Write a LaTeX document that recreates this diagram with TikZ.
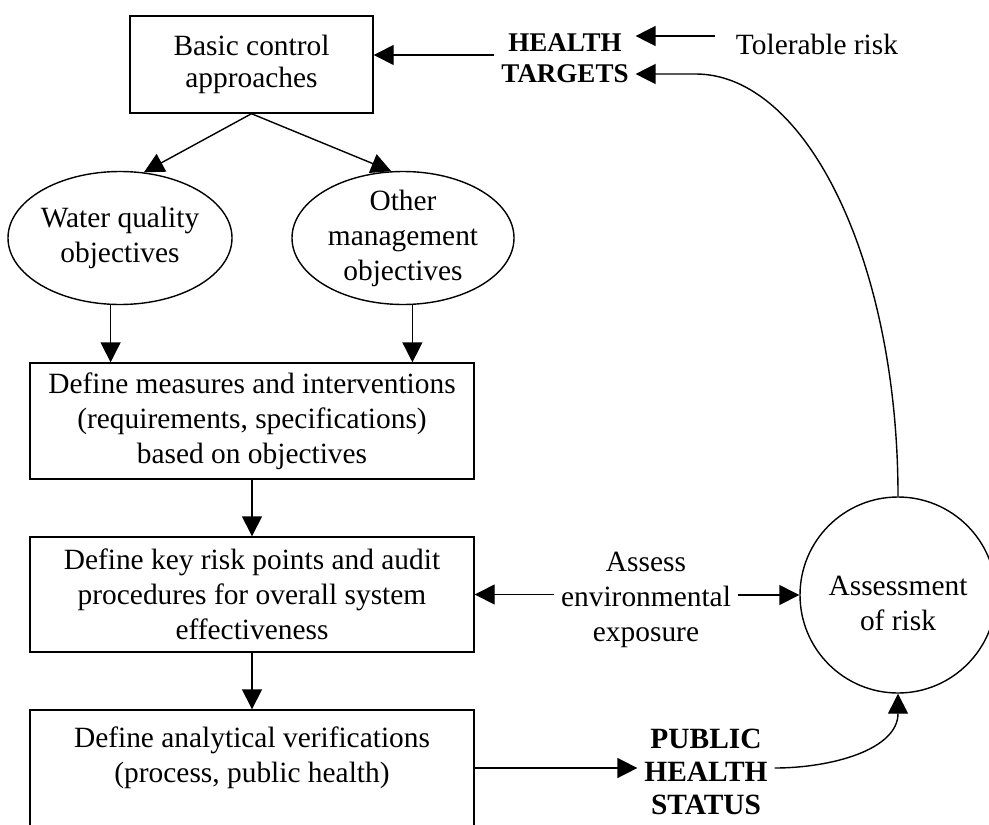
\documentclass[tikz,border=0pt]{standalone}
\usepackage{fontspec}
\setmainfont{Liberation Serif}
\usetikzlibrary{arrows.meta,shapes.geometric}

\begin{document}
\begin{tikzpicture}[x=0.5pt,y=-0.5pt,
  every node/.style={font=\fontsize{14.7}{17.5}\selectfont, align=center},
  box/.style={draw, line width=0.7pt, inner sep=0pt},
  oval/.style={draw, ellipse, line width=0.7pt, inner sep=0pt, minimum width=112pt, minimum height=66.5pt},
  bold/.style={font=\fontsize{13.5}{15.5}\selectfont\bfseries},
  arr/.style={-{Triangle[length=10pt,width=10pt]}, line width=0.7pt}]
  \useasboundingbox (0,0) rectangle (989,824);
  \clip (0,0) rectangle (989,824);

  % left column
  \node[box, minimum width=121.5pt, minimum height=48.5pt, font=\fontsize{14.7}{16}\selectfont] (basic) at (251.5,64.5) {Basic control\\approaches};
  \node[oval] (wq) at (120,238) {};
  \node at (wq) {Water quality\\objectives};
  \node[oval, minimum width=111pt] (other) at (403,238) {};
  \node at (other) {Other\\management\\objectives};
  \node[box, minimum width=222pt, minimum height=58pt] (measures) at (252,421)
    {Define measures and interventions\\(requirements, specifications)\\based on objectives};
  \node[box, minimum width=222pt, minimum height=57.5pt] (keyrisk) at (252,594.5)
    {Define key risk points and audit\\procedures for overall system\\effectiveness};
  \node[box, minimum width=222pt, minimum height=58pt] (analytic) at (252,768) {};
  \node at ([yshift=5pt]analytic) {Define analytical verifications\\(process, public health)};

  % right side
  \node[draw, circle, minimum size=98pt, inner sep=0pt, line width=0.7pt] (risk) at (898,595) {};
  \node at ([yshift=-4pt]risk) {Assessment\\of risk};
  \node[bold] (htarget) at (565,58) {HEALTH\\TARGETS};
  \node (tolerable) at (817,44) {Tolerable risk};
  \node (assess) at (646,600) {Assess\\environmental\\exposure};
  \node[bold, font=\fontsize{14.7}{16.5}\selectfont\bfseries] (phs) at (706,772) {PUBLIC\\HEALTH\\STATUS};
  \coordinate (tgtin) at ([yshift=-8pt]htarget.east);
  \coordinate (tgtbend) at ([xshift=30pt]tgtin);

  % connectors
  \draw[arr] (basic.south) -- (wq.70);
  \draw[arr] (basic.south) -- (other.100);
  \draw[arr] (wq.262) -- (wq.262 |- measures.north);
  \draw[arr] (other.278) -- (other.278 |- measures.north);
  \draw[arr] (measures) -- (keyrisk);
  \draw[arr] (keyrisk) -- (analytic);
  \draw[arr] (assess.west |- keyrisk.east) -- (keyrisk.east);
  \draw[arr] (assess.east |- risk.west) -- (risk.west);
  \draw[arr] (analytic.east) -- (analytic.east -| phs.west);
  \draw[arr] (phs.east |- analytic.east) to[out=0,in=-90] (risk.south);
  \draw[arr] (risk.north) .. controls +(0,-234) and +(111,0) .. (tgtbend) -- (tgtin);
  \draw[arr, shorten <=7pt] ([yshift=4pt]tolerable.west) -- ([yshift=4pt]tolerable.west -| htarget.east);
  \draw[arr] ([yshift=1.5pt]htarget.west) -- ([yshift=1.5pt]htarget.west -| basic.east);
\end{tikzpicture}
\end{document}
